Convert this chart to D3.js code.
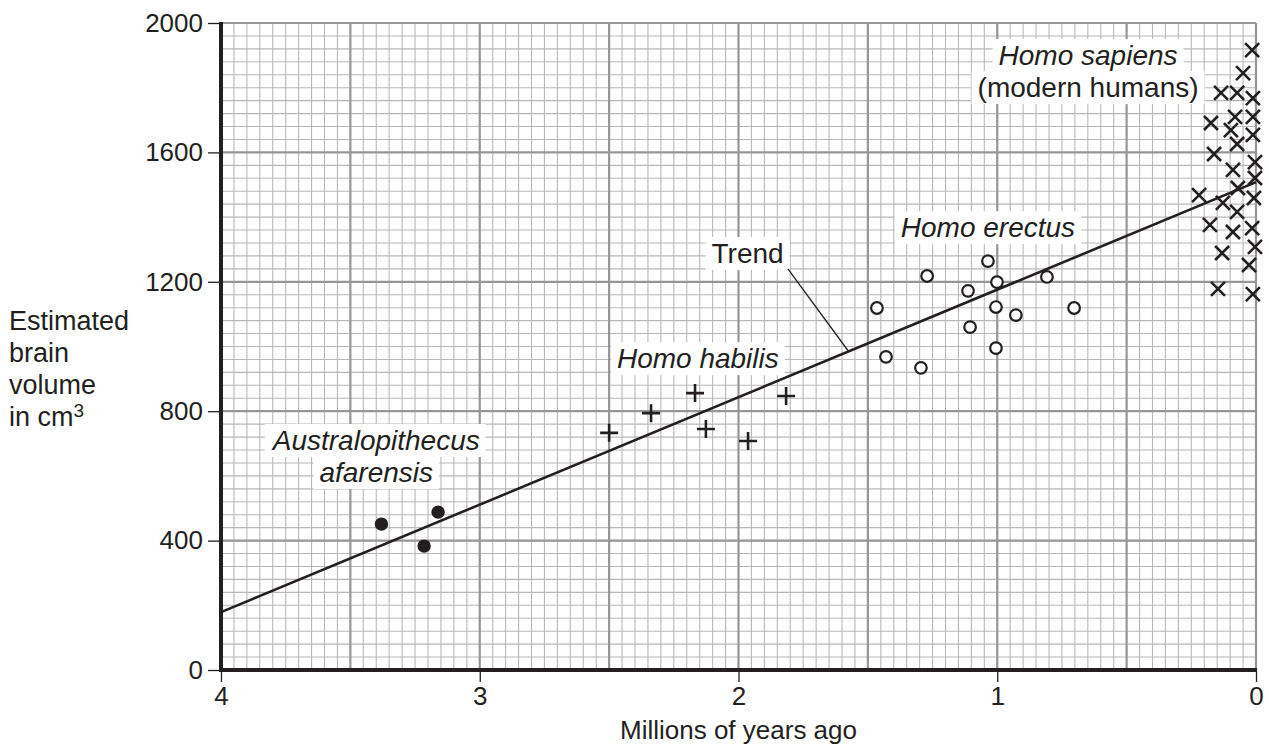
<!DOCTYPE html>
<html>
<head>
<meta charset="utf-8">
<script src="https://cdn.jsdelivr.net/npm/d3@7"></script>
<style>
body{margin:0;background:#fff;}
text{font-family:"Liberation Sans",Arial,Helvetica,sans-serif;fill:#231f20;}
</style>
</head>
<body>
<svg id="chart" width="1269" height="749"></svg>
<script>
// values: [millions of years ago, cm3]
var afarensis = [[3.38,451],[3.215,383],[3.161,488]];
var habilis = [[2.50,733],[2.338,794],[2.168,856],[2.126,745],[1.963,708],[1.816,847]];
var erectus = [[1.465,1119],[1.430,968],[1.295,934],[1.271,1218],[1.113,1172],[1.105,1060],
	[1.036,1264],[1.001,1199],[1.005,1122],[1.005,995],[0.928,1097],[0.808,1215],[0.703,1119]];
var sapiens = [[0.015,1916],[0.050,1845],[0.135,1784],[0.073,1784],[0.012,1768],[0.174,1691],
	[0.081,1710],[0.012,1710],[0.097,1669],[0.012,1654],[0.073,1626],[0.162,1595],[0.004,1570],
	[0.089,1546],[0.004,1521],[0.220,1468],[0.070,1490],[0.008,1459],[0.128,1444],[0.073,1416],
	[0.178,1376],[0.089,1354],[0.015,1366],[0.004,1308],[0.131,1289],[0.027,1252],[0.147,1178],
	[0.012,1162]];
var trend = [[4,179],[0,1508]];
var xTicks = [4,3,2,1,0];
var yTicks = [0,400,800,1200,1600,2000];

var W=1269, H=749;
var mLeft=221, mRight=1256, mTop=23, mBottom=670;
var ink="#231f20";

var svg = d3.select("#chart");
svg.append("rect").attr("width",W).attr("height",H).attr("fill","#fff");

var x = d3.scaleLinear().domain([4,0]).range([mLeft,mRight]);
var y = d3.scaleLinear().domain([0,2000]).range([mBottom,mTop]);

// graph paper
var grid = svg.append("g").attr("class","grid");
var vx = d3.range(0,81).map(function(i){ return {v:i*0.05, major:i%10==0}; });
var hy = d3.range(0,51).map(function(i){ return {v:i*40, major:i%10==0}; });
[false,true].forEach(function(maj){
	grid.selectAll(null).data(vx.filter(function(d){return d.major==maj;})).enter().append("line")
		.attr("x1",function(d){return x(d.v);}).attr("x2",function(d){return x(d.v);})
		.attr("y1",mTop).attr("y2",mBottom)
		.attr("stroke",maj?"#969696":"#b8b8b8").attr("stroke-width",maj?2.2:1.1);
	grid.selectAll(null).data(hy.filter(function(d){return d.major==maj;})).enter().append("line")
		.attr("y1",function(d){return y(d.v);}).attr("y2",function(d){return y(d.v);})
		.attr("x1",mLeft).attr("x2",mRight)
		.attr("stroke",maj?"#969696":"#b8b8b8").attr("stroke-width",maj?2.2:1.1);
});

// axes
var yAxis = svg.append("g").attr("transform","translate("+mLeft+",0)")
	.call(d3.axisLeft(y).tickValues(yTicks).tickFormat(d3.format("d")).tickSize(13).tickPadding(5));
var xAxis = svg.append("g").attr("transform","translate(0,"+mBottom+")")
	.call(d3.axisBottom(x).tickValues(xTicks).tickFormat(d3.format("d")).tickSize(12).tickPadding(5));
[yAxis,xAxis].forEach(function(a){
	a.select(".domain").remove();
	a.selectAll(".tick line").attr("stroke",ink).attr("stroke-width",1.3);
	a.selectAll(".tick text").attr("font-size",26).attr("fill",ink)
		.style("font-family","'Liberation Sans',Arial,Helvetica,sans-serif");
});
svg.append("line").attr("x1",mLeft).attr("x2",mLeft).attr("y1",mTop-1).attr("y2",mBottom+2)
	.attr("stroke",ink).attr("stroke-width",4);
svg.append("line").attr("x1",mLeft-2).attr("x2",mRight+1).attr("y1",mBottom).attr("y2",mBottom)
	.attr("stroke",ink).attr("stroke-width",4);

// axis titles
svg.append("text").attr("x",(mLeft+mRight)/2).attr("y",739).attr("text-anchor","middle")
	.attr("font-size",26).text("Millions of years ago");
var yt = svg.append("text").attr("font-size",27);
["Estimated","brain","volume"].forEach(function(t,i){
	yt.append("tspan").attr("x",9).attr("y",330+i*32).text(t);
});
yt.append("tspan").attr("x",9).attr("y",426).text("in cm");
yt.append("tspan").attr("font-size",19).attr("dy",-9).text("3");

// labels with white boxes
var labels = svg.append("g");
function addLabel(txt, v, cm, italic){
	var g = labels.append("g");
	var r = g.append("rect").attr("fill","#fff");
	var t = g.append("text").attr("x",x(v)).attr("y",y(cm)).attr("text-anchor","middle")
		.attr("font-size",28).attr("font-style",italic?"italic":"normal").text(txt);
	var b = t.node().getBBox();
	r.attr("x",b.x-6).attr("y",b.y-1).attr("width",b.width+12).attr("height",b.height+2);
}
addLabel("Australopithecus",3.40,680,true);
addLabel("afarensis",3.40,581,true);
addLabel("Homo habilis",2.157,933,true);
addLabel("Trend",1.965,1258,false);
addLabel("Homo erectus",1.036,1338,true);
addLabel("Homo sapiens",0.649,1870,true);
addLabel("(modern humans)",0.649,1771,false);

// trend line and its pointer
var line = d3.line().x(function(d){return x(d[0]);}).y(function(d){return y(d[1]);});
svg.append("path").datum(trend).attr("d",line).attr("fill","none")
	.attr("stroke",ink).attr("stroke-width",2.6);
svg.append("path").datum([[1.809,1240],[1.573,983]]).attr("d",line).attr("fill","none")
	.attr("stroke",ink).attr("stroke-width",1.3);

// points
svg.append("g").selectAll("circle").data(afarensis).enter().append("circle")
	.attr("cx",function(d){return x(d[0]);}).attr("cy",function(d){return y(d[1]);})
	.attr("r",6.7).attr("fill",ink);
svg.append("g").selectAll("circle").data(erectus).enter().append("circle")
	.attr("cx",function(d){return x(d[0]);}).attr("cy",function(d){return y(d[1]);})
	.attr("r",5.8).attr("fill","#fff").attr("stroke",ink).attr("stroke-width",2.2);
svg.append("g").selectAll("path").data(habilis).enter().append("path")
	.attr("transform",function(d){return "translate("+x(d[0])+","+y(d[1])+")";})
	.attr("d","M-9,0H9M0,-9V9").attr("stroke",ink).attr("stroke-width",2.6);
svg.append("g").selectAll("path").data(sapiens).enter().append("path")
	.attr("transform",function(d){return "translate("+x(d[0])+","+y(d[1])+")";})
	.attr("d","M-7,-7L7,7M7,-7L-7,7").attr("stroke",ink).attr("stroke-width",2.6);
</script>
</body>
</html>
